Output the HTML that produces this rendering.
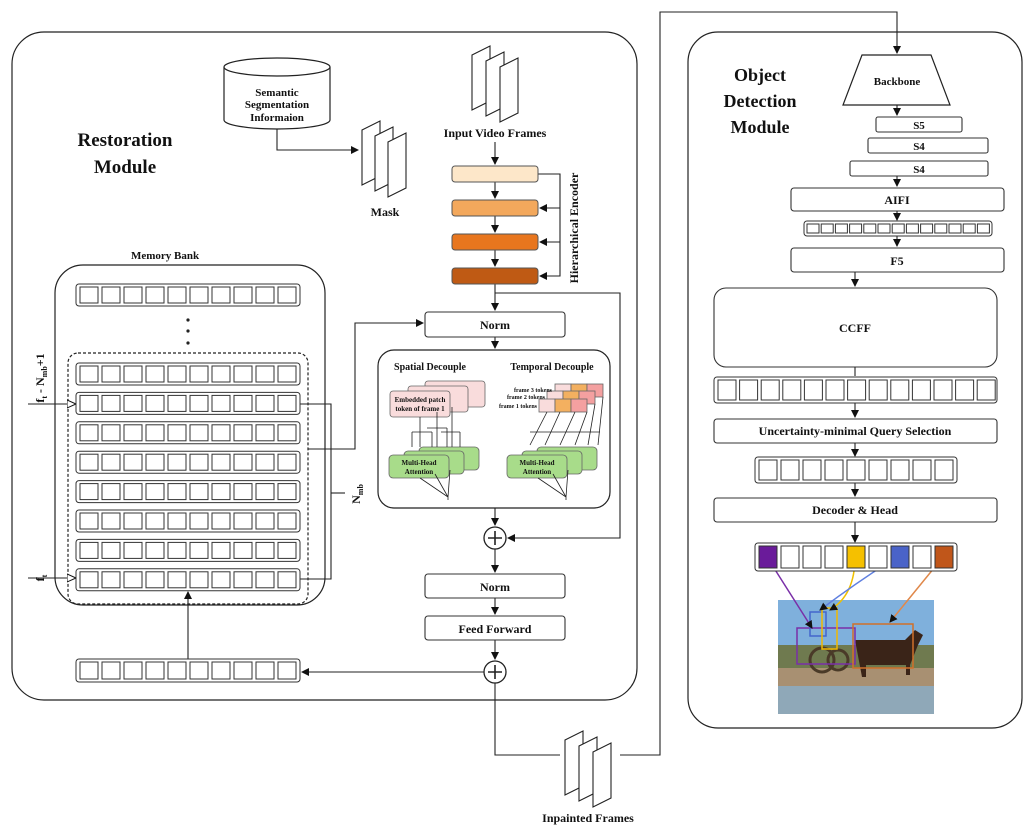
<!DOCTYPE html><html><head><meta charset="utf-8"><style>body{margin:0;background:#fff}svg{display:block}text{font-family:"Liberation Serif",serif;font-weight:bold;fill:#111}</style></head><body>
<svg id="s" width="1035" height="836" viewBox="0 0 1035 836" xmlns="http://www.w3.org/2000/svg">
<defs><marker id="a" markerWidth="8" markerHeight="8" refX="7" refY="4" orient="auto" markerUnits="userSpaceOnUse"><path d="M0,0 L8,4 L0,8z" fill="#111"/></marker>
<marker id="o" markerWidth="10" markerHeight="10" refX="9" refY="5" orient="auto" markerUnits="userSpaceOnUse"><path d="M0,1 L9,5 L0,9z" fill="#fff" stroke="#111"/></marker></defs>
<g fill="none" stroke="#222" stroke-width="1.2">
<rect x="12" y="32" width="625" height="668" rx="32"/>
<rect x="688" y="32" width="334" height="696" rx="30"/>
<rect x="55" y="265" width="270" height="340" rx="28"/>
<rect x="68" y="353" width="240" height="251" rx="10" stroke-dasharray="3,2"/>
<rect x="378" y="350" width="232" height="158" rx="16"/>
</g>
<text x="125" y="146" font-size="19" text-anchor="middle">Restoration</text>
<text x="125" y="173" font-size="19" text-anchor="middle">Module</text>
<text x="760" y="81" font-size="18" text-anchor="middle">Object</text>
<text x="760" y="107" font-size="18" text-anchor="middle">Detection</text>
<text x="760" y="133" font-size="18" text-anchor="middle">Module</text>
<!-- cylinder -->
<g stroke="#222" stroke-width="1.2" fill="#fff"><path d="M224,67 V120 A53,9 0 0 0 330,120 V67"/><ellipse cx="277" cy="67" rx="53" ry="9"/></g>
<text x="277" y="96" font-size="11" text-anchor="middle">Semantic</text>
<text x="277" y="108" font-size="11" text-anchor="middle">Segmentation</text>
<text x="277" y="121" font-size="11" text-anchor="middle">Informaion</text>
<g stroke="#222" fill="#fff" stroke-width="1.1">
<path d="M362,130 l18,-9 v55 l-18,9z"/><path d="M375,136 l18,-9 v55 l-18,9z"/><path d="M388,142 l18,-9 v55 l-18,9z"/>
<path d="M472,55 l18,-9 v55 l-18,9z"/><path d="M486,61 l18,-9 v55 l-18,9z"/><path d="M500,67 l18,-9 v55 l-18,9z"/>
<path d="M565,740 l18,-9 v55 l-18,9z"/><path d="M579,746 l18,-9 v55 l-18,9z"/><path d="M593,752 l18,-9 v55 l-18,9z"/>
</g>
<text x="385" y="216" font-size="12" text-anchor="middle">Mask</text>
<text x="495" y="137" font-size="12" text-anchor="middle">Input Video Frames</text>
<text x="588" y="822" font-size="12" text-anchor="middle">Inpainted Frames</text>
<g stroke="#222" fill="none" stroke-width="1.1">
<path d="M277,129 V150 H358" marker-end="url(#a)"/>
<path d="M495,142 V164" marker-end="url(#a)"/>
<path d="M495,182 V198" marker-end="url(#a)"/><path d="M495,216 V232" marker-end="url(#a)"/><path d="M495,250 V266" marker-end="url(#a)"/>
<path d="M495,284 V310" marker-end="url(#a)"/>
<path d="M538,174 H560 V276 H540" marker-end="url(#a)"/><path d="M560,208 H540" marker-end="url(#a)"/><path d="M560,242 H540" marker-end="url(#a)"/>
<path d="M495,293 H620 V538 H508" marker-end="url(#a)"/>
<path d="M495,337 V348" marker-end="url(#a)"/>
<path d="M495,508 V525" marker-end="url(#a)"/>
<path d="M495,549 V572" marker-end="url(#a)"/><path d="M495,598 V614" marker-end="url(#a)"/><path d="M495,640 V659" marker-end="url(#a)"/>
<path d="M484,672 H302" marker-end="url(#a)"/>
<path d="M188,659 V592" marker-end="url(#a)"/>
<path d="M495,683 V755 H560"/>
<path d="M620,755 H660 V12 H897 V53" marker-end="url(#a)"/>
<path d="M308,449 H355 V323 H423" marker-end="url(#a)"/>
<path d="M300,404 H331 V579 H300"/><path d="M331,493 H345"/>
<path d="M28,404 H76" marker-end="url(#o)"/><path d="M28,578 H76" marker-end="url(#o)"/>
</g>
<circle cx="495" cy="538" r="11" fill="#fff" stroke="#222" stroke-width="1.3"/><path d="M488,538h14M495,531v14" stroke="#222" stroke-width="1.6"/>
<circle cx="495" cy="672" r="11" fill="#fff" stroke="#222" stroke-width="1.3"/><path d="M488,672h14M495,665v14" stroke="#222" stroke-width="1.6"/>
<g stroke="#555" stroke-width="1">
<rect x="452" y="166" width="86" height="16" rx="3" fill="#fde7c9"/>
<rect x="452" y="200" width="86" height="16" rx="3" fill="#f3a85c"/>
<rect x="452" y="234" width="86" height="16" rx="3" fill="#e8761e"/>
<rect x="452" y="268" width="86" height="16" rx="3" fill="#bf5a14"/>
</g>
<text transform="translate(578,228) rotate(-90)" font-size="12" text-anchor="middle">Hierarchical Encoder</text>
<g fill="#fff" stroke="#333" stroke-width="1.1">
<rect x="425" y="312" width="140" height="25" rx="3"/><rect x="425" y="574" width="140" height="24" rx="3"/><rect x="425" y="616" width="140" height="24" rx="3"/>
</g>
<text x="495" y="329" font-size="12" text-anchor="middle">Norm</text>
<text x="495" y="591" font-size="12" text-anchor="middle">Norm</text>
<text x="495" y="633" font-size="12" text-anchor="middle">Feed Forward</text>
<!-- decouple -->
<text x="430" y="370" font-size="10" text-anchor="middle">Spatial Decouple</text>
<text x="552" y="370" font-size="10" text-anchor="middle">Temporal Decouple</text>
<g stroke="#666" stroke-width="0.8" fill="#f9dcdc">
<rect x="425" y="381" width="60" height="26" rx="3"/><rect x="408" y="386" width="60" height="26" rx="3"/><rect x="390" y="391" width="60" height="26" rx="3"/>
<rect x="419" y="447" width="60" height="23" rx="4" fill="#a8dc8a"/><rect x="404" y="451" width="60" height="23" rx="4" fill="#a8dc8a"/><rect x="389" y="455" width="60" height="23" rx="4" fill="#a8dc8a"/>
<rect x="537" y="447" width="60" height="23" rx="4" fill="#a8dc8a"/><rect x="522" y="451" width="60" height="23" rx="4" fill="#a8dc8a"/><rect x="507" y="455" width="60" height="23" rx="4" fill="#a8dc8a"/>
<rect x="555" y="384" width="16" height="13"/><rect x="571" y="384" width="16" height="13" fill="#f3b060"/><rect x="587" y="384" width="16" height="13" fill="#f4a0a0"/>
<rect x="547" y="391" width="16" height="13"/><rect x="563" y="391" width="16" height="13" fill="#f3b060"/><rect x="579" y="391" width="16" height="13" fill="#f4a0a0"/>
<rect x="539" y="399" width="16" height="13"/><rect x="555" y="399" width="16" height="13" fill="#f3b060"/><rect x="571" y="399" width="16" height="13" fill="#f4a0a0"/>
</g>
<text x="420" y="402" font-size="7" font-weight="normal" text-anchor="middle">Embedded patch</text>
<text x="420" y="411" font-size="7" font-weight="normal" text-anchor="middle">token of frame 1</text>
<text x="419" y="465" font-size="7" font-weight="normal" text-anchor="middle">Multi-Head</text>
<text x="419" y="474" font-size="7" font-weight="normal" text-anchor="middle">Attention</text>
<text x="537" y="465" font-size="7" font-weight="normal" text-anchor="middle">Multi-Head</text>
<text x="537" y="474" font-size="7" font-weight="normal" text-anchor="middle">Attention</text>
<text x="552" y="392" font-size="6" font-weight="normal" text-anchor="end">frame 3 tokens</text>
<text x="545" y="399" font-size="6" font-weight="normal" text-anchor="end">frame 2 tokens</text>
<text x="537" y="408" font-size="6" font-weight="normal" text-anchor="end">frame 1 tokens</text>
<g stroke="#222" stroke-width="0.8" fill="none">
<path d="M420,417V447M437,412V447M452,407V447M412,432H432M427,428H447M441,432H460M412,432V447M432,432V447M447,428V447M460,432V447"/>
<path d="M420,478 L448,497 M435,474 L448,497 M450,470 L448,497 V500"/>
<path d="M547,412 L530,445 M560,412 L545,445 M575,412 L560,445 M587,412 L575,445 M595,404 L588,445 M603,397 L598,445 M530,432 H600"/>
<path d="M538,478 L566,497 M553,474 L566,497 M568,470 L566,497 V500"/>
</g>
<text transform="translate(44,378) rotate(-90)" font-size="12" text-anchor="middle">f<tspan font-size="8" dy="3">t</tspan><tspan dy="-3"> - N</tspan><tspan font-size="8" dy="3">mb</tspan><tspan dy="-3">+1</tspan></text>
<text transform="translate(44,578) rotate(-90)" font-size="12" text-anchor="middle">f<tspan font-size="8" dy="3">t</tspan></text>
<text transform="translate(360,494) rotate(-90)" font-size="12" text-anchor="middle">N<tspan font-size="8" dy="3">mb</tspan></text>
<text x="131" y="259" font-size="11">Memory Bank</text>
<g fill="#222"><circle cx="188" cy="320" r="1.6"/><circle cx="188" cy="331" r="1.6"/><circle cx="188" cy="343" r="1.6"/></g>
<g id="cells" fill="#fff" stroke="#333" stroke-width="1"></g>
<!-- right -->
<path d="M862,55 H931 L950,105 H843z" fill="#fff" stroke="#222" stroke-width="1.2"/>
<text x="897" y="85" font-size="11" text-anchor="middle">Backbone</text>
<g fill="#fff" stroke="#333" stroke-width="1.1">
<rect x="876" y="117" width="86" height="15" rx="2"/><rect x="868" y="138" width="120" height="15" rx="2"/><rect x="850" y="161" width="138" height="15" rx="2"/>
<rect x="791" y="188" width="213" height="23" rx="3"/><rect x="791" y="248" width="213" height="24" rx="3"/>
<rect x="714" y="288" width="283" height="79" rx="12"/>
<rect x="714" y="419" width="283" height="24" rx="3"/><rect x="714" y="498" width="283" height="24" rx="3"/>
</g>
<text x="919" y="129" font-size="11" text-anchor="middle">S5</text>
<text x="919" y="150" font-size="11" text-anchor="middle">S4</text>
<text x="919" y="173" font-size="11" text-anchor="middle">S4</text>
<text x="897" y="204" font-size="12" text-anchor="middle">AIFI</text>
<text x="897" y="265" font-size="12" text-anchor="middle">F5</text>
<text x="855" y="332" font-size="12" text-anchor="middle">CCFF</text>
<text x="855" y="435" font-size="12" text-anchor="middle">Uncertainty-minimal Query Selection</text>
<text x="855" y="514" font-size="12" text-anchor="middle">Decoder &amp; Head</text>
<g stroke="#222" fill="none" stroke-width="1.1">
<path d="M897,105V115" marker-end="url(#a)"/><path d="M897,176V186" marker-end="url(#a)"/><path d="M897,211V220" marker-end="url(#a)"/><path d="M897,236V246" marker-end="url(#a)"/><path d="M855,272V286" marker-end="url(#a)"/><path d="M855,367V376"/><path d="M855,403V417" marker-end="url(#a)"/><path d="M855,443V456" marker-end="url(#a)"/><path d="M855,483V496" marker-end="url(#a)"/><path d="M855,522V542" marker-end="url(#a)"/>
</g>
<!-- image -->
<rect x="778" y="600" width="156" height="114" fill="#7fb0dc"/>
<rect x="778" y="645" width="156" height="30" fill="#6f7a4f"/>
<rect x="778" y="668" width="156" height="18" fill="#a89072"/>
<rect x="778" y="686" width="156" height="28" fill="#8fa8b8"/>
<path d="M855,640 h50 l10,-10 l8,5 l-5,10 l-8,20 v10 h-4 v-10 h-40 v12 h-4z" fill="#3a2418"/>
<circle cx="822" cy="660" r="12" fill="none" stroke="#4a3a28" stroke-width="3"/><circle cx="838" cy="660" r="10" fill="none" stroke="#4a3a28" stroke-width="3"/>
<g fill="none" stroke-width="1.5">
<rect x="797" y="628" width="58" height="36" stroke="#7a2fa8"/><rect x="810" y="612" width="16" height="24" stroke="#4466cc"/><rect x="822" y="608" width="15" height="41" stroke="#f0b800"/><rect x="853" y="624" width="60" height="44" stroke="#d0702a"/>
<path d="M767,557 L812,628" stroke="#7a2fa8" marker-end="url(#a)"/><path d="M855,557 Q855,595 830,610" stroke="#f0c000" marker-end="url(#a)"/><path d="M897,557 Q860,580 820,610" stroke="#6080e0" marker-end="url(#a)"/><path d="M943,557 L890,622" stroke="#e0884a" marker-end="url(#a)"/>
</g>
<g id="cells2" fill="#fff" stroke="#333" stroke-width="1"></g>
</svg>
<script>
var N="http://www.w3.org/2000/svg";
function row(g,x,y,w,h,n,cw,pitch,pad,fills){var r=document.createElementNS(N,"rect");r.setAttribute("x",x);r.setAttribute("y",y);r.setAttribute("width",w);r.setAttribute("height",h);r.setAttribute("rx",3);g.appendChild(r);
for(var i=0;i<n;i++){var c=document.createElementNS(N,"rect");c.setAttribute("x",x+pad+i*pitch);c.setAttribute("y",y+3);c.setAttribute("width",cw);c.setAttribute("height",h-6);if(fills&&fills[i])c.setAttribute("fill",fills[i]);g.appendChild(c);}}
var g=document.getElementById("cells");
row(g,76,284,224,22,10,18,22,4);
for(var k=0;k<8;k++)row(g,76,363+k*29.4,224,22,10,18,22,4);
row(g,76,659,224,23,10,18,22,4);
var h=document.getElementById("cells2");
row(h,804,221,188,15,13,12,14.2,3);
row(h,714,377,283,26,13,18,21.6,4);
row(h,755,457,202,26,9,18,22,4);
row(h,755,543,202,28,9,18,22,4,["#6a1b9a",0,0,0,"#f5c000",0,"#4a63c8",0,"#c0561a"]);
</script>
</body></html>
